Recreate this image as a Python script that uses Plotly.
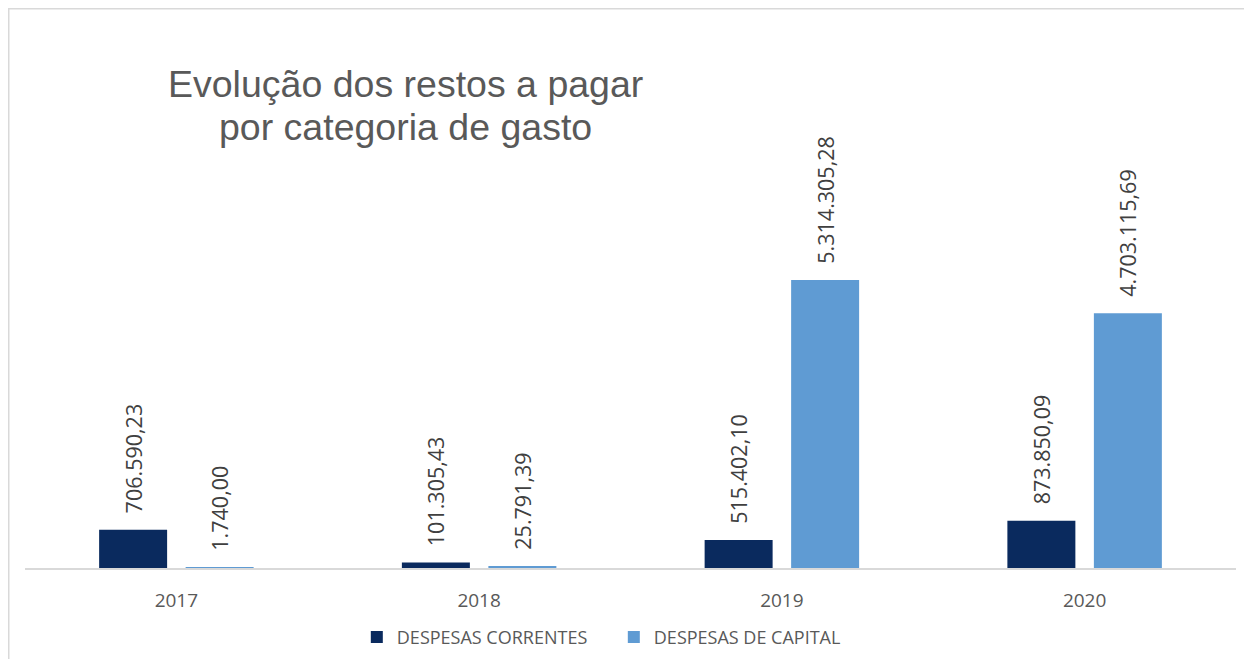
import plotly.graph_objects as go

years = ["2017", "2018", "2019", "2020"]
correntes = [706590.23, 101305.43, 515402.10, 873850.09]
capital = [1740.00, 25791.39, 5314305.28, 4703115.69]
series_names = ["DESPESAS CORRENTES", "DESPESAS DE CAPITAL"]
title_lines = ["Evolução dos restos a pagar", "por categoria de gasto"]


def fmt(v):
    s = f"{v:,.2f}"
    return s.replace(",", "X").replace(".", ",").replace("X", ".")


PAD = "\u00a0\u00a0\u200a"
LABEL_FONT = dict(family="Open Sans", size=21.5, color="#404040")

fig = go.Figure()
fig.add_trace(go.Bar(
    x=years, y=correntes, name=series_names[0],
    marker=dict(color="#0a2a5e", line=dict(width=0)),
    text=[PAD + fmt(v) for v in correntes], textposition="outside",
    textangle=-90, textfont=LABEL_FONT, constraintext="none", cliponaxis=False,
))
fig.add_trace(go.Bar(
    x=years, y=capital, name=series_names[1],
    marker=dict(color="#5f9bd3", line=dict(width=0)),
    text=[PAD + fmt(v) for v in capital], textposition="outside",
    textangle=-90, textfont=LABEL_FONT, constraintext="none", cliponaxis=False,
))

title_font = dict(family="Liberation Sans", size=37.5, color="#595959")
fig.update_layout(
    width=1252, height=659,
    margin=dict(l=17, r=24, t=92, b=99, autoexpand=False),
    paper_bgcolor="white", plot_bgcolor="white",
    barmode="group", bargap=0.4286, bargroupgap=0.214,
    showlegend=True,
    legend=dict(orientation="h", x=0.274, xanchor="left", y=-0.148, yanchor="middle",
                font=dict(family="Open Sans", size=18, color="#595959"),
                entrywidth=212, entrywidthmode="pixels", tracegroupgap=0,
                traceorder="normal"),
    annotations=[
        dict(text=title_lines[0], xref="paper", yref="paper", x=0.3146, y=1.0342,
             xanchor="center", yanchor="middle", showarrow=False, font=title_font),
        dict(text=title_lines[1], xref="paper", yref="paper", x=0.3146, y=0.9423,
             xanchor="center", yanchor="middle", showarrow=False, font=title_font),
    ],
    shapes=[dict(type="rect", xref="paper", yref="paper",
                 x0=-0.01342, x1=1.03, y0=-0.3, y1=1.195,
                 line=dict(color="#d9d9d9", width=1.5), fillcolor="rgba(0,0,0,0)",
                 layer="below")],
)
fig.update_xaxes(showline=True, linecolor="#d9d9d9", linewidth=1.5, ticks="",
                 tickfont=dict(family="Open Sans", size=19, color="#595959"),
                 ticklabelstandoff=14, showgrid=False)
fig.update_yaxes(visible=False, range=[0, 8636000], showgrid=False, zeroline=False)

fig.write_html("out.html")
